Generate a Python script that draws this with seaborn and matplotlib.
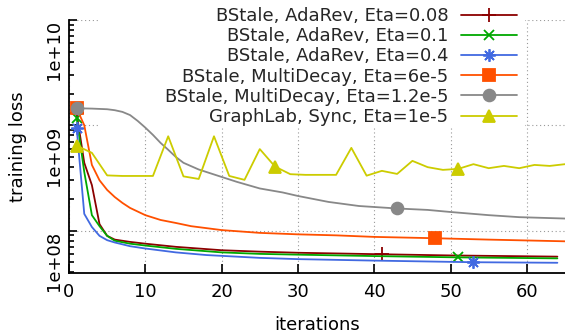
import matplotlib
matplotlib.use("Agg")
from matplotlib import pyplot as plt
from matplotlib.patches import Rectangle
from matplotlib.ticker import LogLocator, NullFormatter
import pandas as pd
import seaborn as sns

# legend labels, in drawing order
labels = [
    "BStale, AdaRev, Eta=0.08",
    "BStale, AdaRev, Eta=0.1",
    "BStale, AdaRev, Eta=0.4",
    "BStale, MultiDecay, Eta=6e-5",
    "BStale, MultiDecay, Eta=1.2e-5",
    "GraphLab, Sync, Eta=1e-5",
]

red_x = [1, 2, 3, 4, 5, 6, 8, 10, 14, 20, 25, 30, 41, 50, 64]
red_y = [1.3e9, 4.4e8, 2.7e8, 1.15e8, 8.9e7, 8.2e7, 7.8e7, 7.5e7, 7.0e7,
         6.5e7, 6.3e7, 6.15e7, 5.95e7, 5.8e7, 5.65e7]
red_marks = [0, 12]

green_x = [1, 2, 3, 4, 5, 6, 8, 10, 14, 20, 25, 30, 40, 51, 64]
green_y = [1.18e9, 3.6e8, 1.4e8, 1.1e8, 8.9e7, 8.0e7, 7.5e7, 7.2e7, 6.7e7,
           6.2e7, 6.0e7, 5.9e7, 5.72e7, 5.56e7, 5.44e7]
green_marks = [0, 13]

blue_x = [1, 2, 3, 4, 5, 6, 8, 10, 14, 18, 25, 30, 40, 53, 64]
blue_y = [9.5e8, 1.44e8, 1.08e8, 8.9e7, 8.1e7, 7.7e7, 7.1e7, 6.75e7, 6.2e7,
          5.85e7, 5.5e7, 5.35e7, 5.18e7, 5.0e7, 4.94e7]
blue_marks = [0, 13]

orange_x = [1, 2, 3, 4, 5, 6, 7, 8, 10, 12, 14, 16, 20, 25, 30, 35, 40, 48, 55, 65]
orange_y = [1.45e9, 1.0e9, 4.2e8, 3.0e8, 2.43e8, 2.08e8, 1.83e8, 1.64e8, 1.4e8,
            1.26e8, 1.18e8, 1.1e8, 1.01e8, 9.5e7, 9.2e7, 9.0e7, 8.7e7, 8.45e7,
            8.2e7, 7.9e7]
orange_marks = [0, 17]

grey_x = [1, 3, 5, 6, 7, 8, 9, 10, 11, 12, 13, 14, 15, 17, 20, 22, 25, 28, 30,
          34, 38, 43, 47, 50, 55, 59, 65]
grey_y = [1.45e9, 1.44e9, 1.42e9, 1.39e9, 1.34e9, 1.25e9, 1.1e9, 9.5e8, 8.1e8,
          6.8e8, 5.85e8, 5.0e8, 4.4e8, 3.8e8, 3.23e8, 2.9e8, 2.51e8, 2.3e8,
          2.13e8, 1.87e8, 1.71e8, 1.62e8, 1.57e8, 1.5e8, 1.4e8, 1.34e8, 1.3e8]
grey_marks = [0, 21]

yellow_x = [1, 3, 5, 7, 9, 11, 13, 15, 17, 19, 21, 23, 25, 27, 29, 31, 33, 35,
            37, 39, 41, 43, 45, 47, 49, 51, 53, 55, 57, 59, 61, 63, 65]
yellow_y = [6.4e8, 5.47e8, 3.34e8, 3.3e8, 3.3e8, 3.3e8, 7.86e8, 3.27e8, 3.09e8,
            7.86e8, 3.3e8, 3.03e8, 5.94e8, 4.05e8, 3.43e8, 3.38e8, 3.38e8,
            3.38e8, 6.1e8, 3.32e8, 3.69e8, 3.45e8, 4.59e8, 4.0e8, 3.77e8,
            3.85e8, 4.27e8, 3.91e8, 4.11e8, 3.91e8, 4.2e8, 4.11e8, 4.27e8]
yellow_marks = [0, 13, 25]

ytick_vals = [1e8, 1e9, 1e10]
ytick_labels = ["1e+08", "1e+09", "1e+10"]
xtick_vals = [0, 10, 20, 30, 40, 50, 60]

FS = 13

sns.set_theme(style="ticks", rc={"axes.spines.right": False, "axes.spines.top": False})
plt.rcParams["font.family"] = ["DejaVu Sans"]

fig = plt.figure(figsize=(5.65, 3.35), dpi=100)
ax = fig.add_axes([69 / 565, 62 / 335, 496 / 565, 253 / 335])
ax.set_yscale("log")

series = [
    (red_x, red_y, "#8b0000", "+", 10, red_marks),
    (green_x, green_y, "#00a800", "x", 7, green_marks),
    (blue_x, blue_y, "#4169e1", (8, 2, 0), 9, blue_marks),
    (orange_x, orange_y, "#ff5000", "s", 8, orange_marks),
    (grey_x, grey_y, "#888888", "o", 8.5, grey_marks),
    (yellow_x, yellow_y, "#cccc00", "^", 9, yellow_marks),
]

for i, (xs, ys, col, mk, ms, marks) in enumerate(series):
    df = pd.DataFrame({"iteration": xs, "loss": ys})
    sns.lineplot(data=df, x="iteration", y="loss", color=col, marker=mk,
                 markersize=ms, markevery=marks, mec=col, mfc=col, mew=1.3,
                 lw=1.3, label=labels[i], ax=ax, zorder=3 + i)

# opaque key area, like gnuplot's
ax.add_patch(Rectangle((0.0625, 0.573), 0.857, 0.5, transform=ax.transAxes,
                       fc="white", ec="none", zorder=1, clip_on=True))

ax.set_xlim(0, 65)
ax.set_ylim(3.95e7, 1e10)
ax.set_xticks(xtick_vals)
ax.set_yticks(ytick_vals)
ax.set_yticklabels(ytick_labels)
ax.yaxis.set_minor_locator(LogLocator(base=10, subs=range(2, 10), numticks=20))
ax.yaxis.set_minor_formatter(NullFormatter())

ax.tick_params(axis="x", which="major", direction="in", length=6.5, width=1.2,
               pad=7, labelsize=FS, colors="black")
ax.tick_params(axis="y", which="major", direction="in", length=6, width=1.2,
               pad=4, labelsize=FS, labelrotation=90, colors="black")
ax.tick_params(axis="y", which="minor", direction="in", length=3.5, width=1.2,
               colors="black")
for t in ax.get_yticklabels():
    t.set_verticalalignment("top")

for s in ["left", "bottom"]:
    ax.spines[s].set_color("black")
    ax.spines[s].set_linewidth(1.3)

ax.grid(True, which="major", axis="both", ls=(0, (1, 2.5)), color="#999999", lw=0.8)

ax.set_xlabel("iterations", fontsize=FS, color="black")
ax.set_ylabel("training loss", fontsize=FS, color="black")
ax.xaxis.set_label_coords(0.5, -0.17)
ax.yaxis.set_label_coords(-0.085, 0.5)

handles, labs = ax.get_legend_handles_labels()
ax.legend(handles, labs, loc="upper right", bbox_to_anchor=(517 / 565, 328 / 335),
          bbox_transform=fig.transFigure, frameon=False, markerfirst=False,
          handlelength=3.1, handletextpad=0.7, labelspacing=0.12, borderpad=0,
          borderaxespad=0, fontsize=FS, numpoints=1)

plt.savefig("out.png", dpi=100)
